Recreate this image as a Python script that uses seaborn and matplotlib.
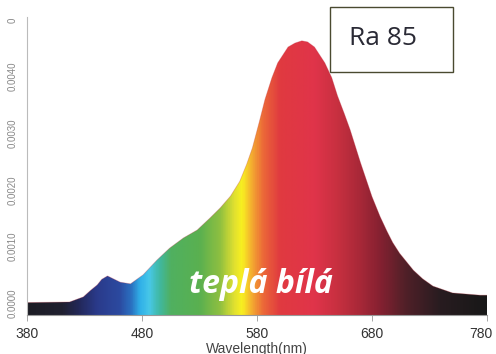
import numpy as np
import pandas as pd
import seaborn as sns
import matplotlib.pyplot as plt
import matplotlib.transforms as mtransforms
from matplotlib.colors import LinearSegmentedColormap, Normalize
from matplotlib.patches import Rectangle

# ---- data ----
wavelength = [380, 417, 429, 435, 441, 445, 450, 455, 461, 470, 481, 493, 504, 516,
              528, 539, 548, 557, 565, 571, 576, 582, 587, 593, 598, 607, 613, 619,
              624, 630, 639, 645, 650, 656, 661, 670, 680, 687, 693, 698, 704, 716,
              724, 733, 750, 774, 780]
intensity = [0.00001, 0.00002, 0.00011, 0.00022, 0.00032, 0.00042, 0.00048, 0.00043,
             0.00037, 0.00034, 0.00050, 0.00076, 0.00097, 0.00115, 0.00129, 0.00150,
             0.00168, 0.00189, 0.00215, 0.00245, 0.00274, 0.00320, 0.00360, 0.00398,
             0.00424, 0.00452, 0.00459, 0.00463, 0.00461, 0.00452, 0.00424, 0.00398,
             0.00366, 0.00334, 0.00306, 0.00248, 0.00188, 0.00153, 0.00127, 0.00107,
             0.00088, 0.00058, 0.00043, 0.00030, 0.00018, 0.00014, 0.00014]
x_ticks = [380, 480, 580, 680, 780]
y_ticks = [0.0, 0.001, 0.002, 0.003, 0.004, 0.005]
y_tick_labels = ["0.0000", "0.0010", "0.0020", "0.0030", "0.0040", "0"]
x_label = "Wavelength(nm)"
badge_text = "Ra 85"
caption_text = "teplá bílá"

# spectrum colour anchors (wavelength, colour)
spec_wl = [380, 410, 425, 440, 460, 470, 478, 486, 495, 505, 530, 548, 560, 567,
           575, 585, 600, 630, 650, 670, 690, 710, 740, 780]
spec_col = ["#1c1c24", "#202030", "#23285a", "#2a3a8a", "#2c4aa0", "#2a70c0",
            "#30b0e8", "#48c8e8", "#40b8a0", "#50b060", "#5ab050", "#90c040",
            "#e0e030", "#f8f020", "#f4b030", "#ec6a38", "#e03a40", "#e0344a",
            "#c83040", "#a82838", "#802030", "#502028", "#281c20", "#181818"]

sns.set_theme(style="white")
plt.rcParams["font.family"] = ["Liberation Sans", "DejaVu Sans"]

W, H = 496, 354
fig = plt.figure(figsize=(W / 100, H / 100), dpi=100)
ax_l, ax_r, ax_b, ax_t = 27, 487, 315, 17
ax = fig.add_axes([ax_l / W, 1 - ax_b / H, (ax_r - ax_l) / W, (ax_b - ax_t) / H])

ymin, ymax = -0.00021, 0.00505
df = pd.DataFrame({"wl": wavelength, "val": intensity})
sns.lineplot(data=df, x="wl", y="val", ax=ax, color="#c03040", linewidth=0.6, alpha=0.3)
ax.set_xlim(380, 780)
ax.set_ylim(ymin, ymax)

poly = ax.fill_between(df["wl"], ymin, df["val"], color="none", linewidth=0)
cmap = LinearSegmentedColormap.from_list(
    "spec", [((w - 380) / 400, c) for w, c in zip(spec_wl, spec_col)])
grad = np.linspace(380, 780, 801)
img = cmap(Normalize(380, 780)(grad))[None, :, :]
im = ax.imshow(img, extent=[380, 780, ymin, ymax], aspect="auto", origin="lower",
               interpolation="bilinear", zorder=1)
im.set_clip_path(poly.get_paths()[0], transform=ax.transData)

ax.set_xticks(x_ticks)
ax.set_xticklabels([str(v) for v in x_ticks])
ax.set_yticks(y_ticks)
ax.set_yticklabels(y_tick_labels)
for lab in ax.get_yticklabels():
    lab.set_rotation(90)
    lab.set_va("center")

sns.despine(ax=ax, top=True, right=True)
ax.spines["left"].set_color("#bbbbbb")
ax.spines["left"].set_linewidth(0.8)
ax.spines["bottom"].set_color("#999999")
ax.spines["bottom"].set_linewidth(0.8)
ax.tick_params(axis="x", length=4, width=0.6, color="#999999", pad=5,
               labelsize=10, labelcolor="#333333", bottom=True)
ax.tick_params(axis="y", length=0, pad=7, labelsize=7, labelcolor="#888888")
ax.set_xlabel(x_label, fontsize=10, color="#444444", labelpad=0)
ax.set_ylabel("")

# keep the last x label inside the canvas
last = ax.get_xticklabels()[-1]
last.set_transform(last.get_transform() +
                   mtransforms.ScaledTranslation(-6 / 100, 0, fig.dpi_scale_trans))

# Ra badge
fig.patches.append(Rectangle((330 / W, 1 - 72 / H), 123 / W, 65 / H,
                             transform=fig.transFigure, facecolor="white",
                             edgecolor="#4a4a30", linewidth=1.0, zorder=5))
fig.text(349 / W, 1 - 45 / H, badge_text, fontsize=19, color="#2a2a35",
         family=["Open Sans", "DejaVu Sans"], ha="left", va="baseline", zorder=6)

# caption
fig.text(189 / W, 1 - 293 / H, caption_text, fontsize=23, color="white",
         family=["Open Sans", "DejaVu Sans"], weight="bold", style="italic",
         ha="left", va="baseline", zorder=6)

fig.savefig("out.png", dpi=100)
